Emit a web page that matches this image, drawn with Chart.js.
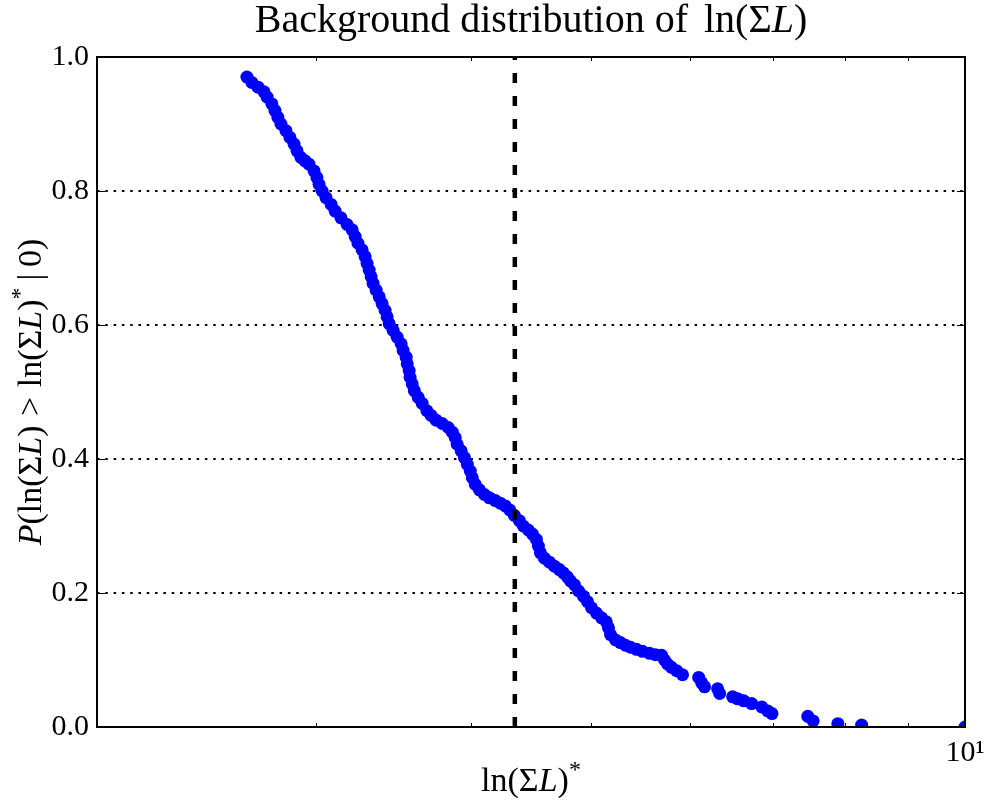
<!DOCTYPE html>
<html>
<head>
<meta charset="utf-8">
<script src="https://cdn.jsdelivr.net/npm/chart.js@4"></script>
<style>
  html, body { margin: 0; padding: 0; background: #fff; }
  canvas { display: block; }
</style>
</head>
<body>
<canvas id="bgChart" width="990" height="803"></canvas>
<script>
// values
const lnSumL = [
    2.641, 2.665, 2.696, 2.726, 2.742, 2.766, 2.782, 2.797, 2.813, 2.839,
    2.860, 2.882, 2.898, 2.919, 2.941, 2.963, 2.991, 3.007, 3.019, 3.036,
    3.058, 3.087, 3.110, 3.144, 3.180, 3.210, 3.228, 3.245, 3.270, 3.288,
    3.300, 3.313, 3.325, 3.337, 3.356, 3.375, 3.393, 3.412, 3.425, 3.438,
    3.463, 3.489, 3.515, 3.528, 3.548, 3.555, 3.568, 3.574, 3.588, 3.602,
    3.628, 3.655, 3.687, 3.716, 3.751, 3.793, 3.836, 3.865, 3.886, 3.900,
    3.929, 3.953, 3.974, 3.996, 4.011, 4.033, 4.064, 4.102, 4.140, 4.186,
    4.225, 4.264, 4.299, 4.336, 4.377, 4.409, 4.450, 4.484, 4.517, 4.534,
    4.551, 4.585, 4.628, 4.671, 4.714, 4.749, 4.784, 4.811, 4.848, 4.885,
    4.929, 4.966, 5.003, 5.049, 5.097, 5.142, 5.163, 5.183, 5.231, 5.279,
    5.328, 5.378, 5.438, 5.499, 5.571, 5.633, 5.697, 5.728, 5.760, 5.803,
    5.858, 5.923, 6.103, 6.137, 6.170, 6.321, 6.345, 6.500, 6.561, 6.634,
    6.733, 6.860, 6.936, 6.991, 7.471, 7.546, 7.900, 8.256, 10.0
];
const probAbove = [
    0.970, 0.962, 0.955, 0.948, 0.940, 0.930, 0.920, 0.910, 0.900, 0.890,
    0.880, 0.870, 0.860, 0.850, 0.845, 0.840, 0.830, 0.820, 0.810, 0.800,
    0.790, 0.780, 0.770, 0.760, 0.750, 0.742, 0.732, 0.722, 0.712, 0.702,
    0.692, 0.682, 0.672, 0.662, 0.652, 0.642, 0.632, 0.622, 0.612, 0.602,
    0.592, 0.582, 0.572, 0.562, 0.552, 0.542, 0.532, 0.522, 0.512, 0.502,
    0.492, 0.483, 0.472, 0.465, 0.458, 0.453, 0.447, 0.440, 0.432, 0.422,
    0.412, 0.402, 0.392, 0.382, 0.372, 0.362, 0.354, 0.347, 0.342, 0.338,
    0.334, 0.330, 0.324, 0.316, 0.308, 0.300, 0.294, 0.288, 0.280, 0.270,
    0.260, 0.252, 0.246, 0.240, 0.235, 0.230, 0.224, 0.218, 0.212, 0.203,
    0.195, 0.187, 0.178, 0.170, 0.163, 0.157, 0.148, 0.138, 0.130, 0.126,
    0.122, 0.119, 0.116, 0.113, 0.110, 0.108, 0.107, 0.100, 0.094, 0.089,
    0.084, 0.078, 0.074, 0.066, 0.060, 0.057, 0.050, 0.045, 0.042, 0.039,
    0.035, 0.030, 0.024, 0.020, 0.016, 0.009, 0.005, 0.003, 0.000
];
const observedValue = 4.34;
const yTickValues = [0, 0.2, 0.4, 0.6, 0.8, 1.0];
const xTickValues = [2, 3, 4, 5, 6, 7, 8, 9, 10];
const xLabelledTicks = [10];

const FONT = '"Liberation Serif", "Times New Roman", serif';

function partFont(style, size) {
    if (style === 'i') return 'italic ' + size + 'px ' + FONT;
    if (style === 'sup') return Math.round(size * 0.7) + 'px ' + FONT;
    return size + 'px ' + FONT;
}

// draws a label made of plain / italic / superscript pieces, centred on x
// a piece of style 'gap' is just a blank of the given width in em
function drawRich(ctx, parts, size, x, y, angle) {
    ctx.save();
    ctx.translate(x, y);
    ctx.rotate(angle);
    ctx.fillStyle = '#000';
    ctx.textAlign = 'left';
    ctx.textBaseline = 'alphabetic';
    const widthOf = p => {
        if (p[1] === 'gap') return p[0] * size;
        ctx.font = partFont(p[1], size);
        return ctx.measureText(p[0]).width;
    };
    let total = 0;
    parts.forEach(p => { total += widthOf(p); });
    let cur = -total / 2;
    parts.forEach(p => {
        const w = widthOf(p);
        if (p[1] !== 'gap') {
            const dy = p[1] === 'sup' ? -size * 0.42 : 0;
            ctx.fillText(p[0], cur, dy);
        }
        cur += w;
    });
    ctx.restore();
}

const framePlugin = {
    id: 'frame',
    beforeDatasetsDraw(chart) {
        const { ctx, chartArea: a, scales: { y } } = chart;
        ctx.save();
        ctx.strokeStyle = '#000';
        ctx.lineWidth = 2;
        ctx.setLineDash([2.5, 5.8]);
        yTickValues.slice(1, -1).forEach(v => {
            const py = Math.round(y.getPixelForValue(v));
            ctx.beginPath();
            ctx.moveTo(a.left, py);
            ctx.lineTo(a.right, py);
            ctx.stroke();
        });
        ctx.restore();
    },
    afterDatasetsDraw(chart) {
        const { ctx, chartArea: a, scales: { x, y } } = chart;
        ctx.save();
        ctx.strokeStyle = '#000';
        ctx.lineWidth = 1;
        yTickValues.forEach(v => {
            const py = Math.round(y.getPixelForValue(v)) + 0.5;
            ctx.beginPath();
            ctx.moveTo(a.left, py); ctx.lineTo(a.left + 8, py);
            ctx.moveTo(a.right, py); ctx.lineTo(a.right - 8, py);
            ctx.stroke();
        });
        xTickValues.forEach(v => {
            const px = Math.round(x.getPixelForValue(v)) + 0.5;
            const len = xLabelledTicks.includes(v) ? 8 : 4;
            ctx.beginPath();
            ctx.moveTo(px, a.bottom); ctx.lineTo(px, a.bottom - len);
            ctx.moveTo(px, a.top); ctx.lineTo(px, a.top + len);
            ctx.stroke();
        });
        ctx.lineWidth = 2;
        ctx.strokeRect(a.left, a.top, a.right - a.left, a.bottom - a.top);

        const cx = (a.left + a.right) / 2;
        drawRich(ctx, [['Background distribution of', ''], [0.4, 'gap'], ['ln(\u03A3', ''],
            ['L', 'i'], [')', '']], 40, cx, 32, 0);
        drawRich(ctx, [['ln(\u03A3', ''], ['L', 'i'], [')', ''], ['*', 'sup']],
            34, cx, 791, 0);
        drawRich(ctx, [['P', 'i'], ['(ln(\u03A3', ''], ['L', 'i'], [')', ''], [0.28, 'gap'],
            ['>', ''], [0.28, 'gap'], ['ln(\u03A3', ''], ['L', 'i'], [')', ''], ['*', 'sup'],
            [0.2, 'gap'], ['|', ''], [0.2, 'gap'], ['0)', '']],
            34, 41, (a.top + a.bottom) / 2, -Math.PI / 2);
        ctx.restore();
    }
};

function initChart() {
    const ctx = document.getElementById('bgChart').getContext('2d');
    const points = lnSumL.map((v, i) => ({ x: v, y: probAbove[i] }));

    new Chart(ctx, {
        type: 'scatter',
        data: {
            datasets: [{
                type: 'line',
                data: [{ x: observedValue, y: 0 }, { x: observedValue, y: 1 }],
                borderColor: '#000',
                borderWidth: 4.5,
                borderDash: [10, 13],
                pointRadius: 0,
                clip: 0
            }, {
                data: points,
                backgroundColor: '#0000ff',
                borderColor: '#0000ff',
                borderWidth: 0,
                pointRadius: 6.5,
                pointHoverRadius: 6.5,
                clip: 0
            }]
        },
        options: {
            responsive: false,
            devicePixelRatio: 1,
            animation: false,
            layout: { padding: { top: 57, right: 25, left: 0, bottom: 0 } },
            plugins: { legend: { display: false }, tooltip: { enabled: false } },
            scales: {
                x: {
                    type: 'logarithmic',
                    min: 2,
                    max: 10,
                    grid: { display: false },
                    border: { display: false },
                    afterBuildTicks: s => { s.ticks = xTickValues.map(v => ({ value: v })); },
                    afterFit: s => { s.height = 76; },
                    ticks: {
                        autoSkip: false,
                        maxRotation: 0,
                        padding: 0,
                        color: '#000',
                        font: { family: FONT, size: 30 },
                        callback: v => xLabelledTicks.includes(v) ? '10\u00B9' : ''
                    }
                },
                y: {
                    min: 0,
                    max: 1,
                    grid: { display: false },
                    border: { display: false },
                    afterBuildTicks: s => { s.ticks = yTickValues.map(v => ({ value: v })); },
                    afterFit: s => { s.width = 97; },
                    ticks: {
                        padding: 0,
                        color: '#000',
                        font: { family: FONT, size: 30 },
                        callback: v => Number(v).toFixed(1)
                    }
                }
            }
        },
        plugins: [framePlugin]
    });
}

document.addEventListener('DOMContentLoaded', initChart);
</script>
</body>
</html>
